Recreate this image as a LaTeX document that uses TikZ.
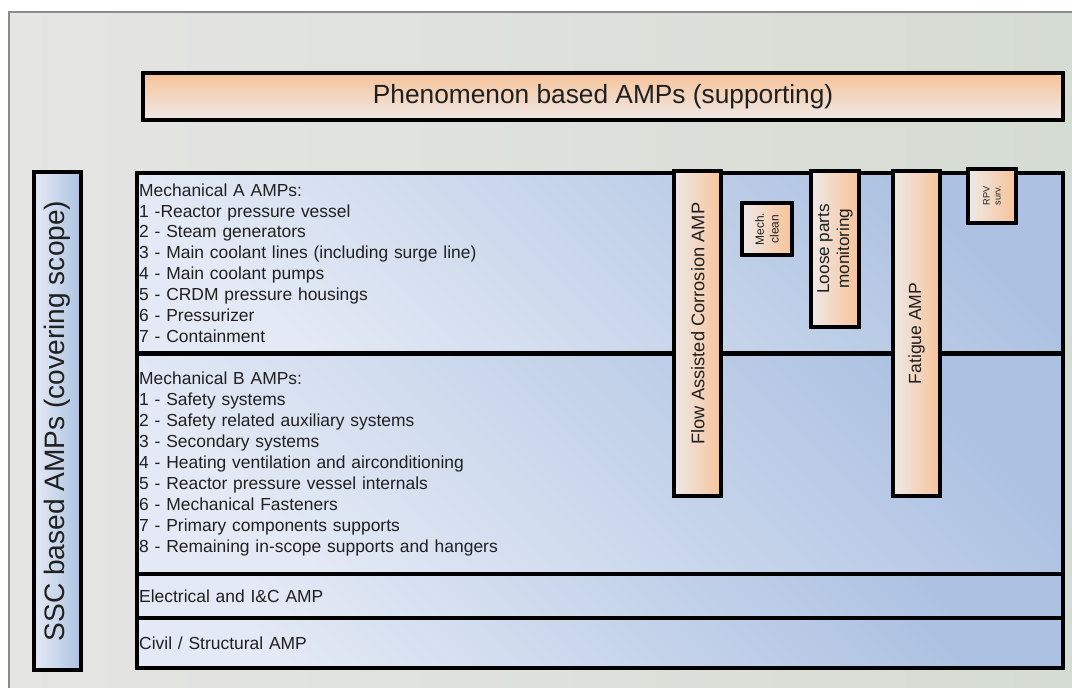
\documentclass[tikz,border=0pt]{standalone}
\usepackage{fontspec}
\setmainfont{Liberation Sans}
\definecolor{bgleft}{RGB}{229,229,227}
\definecolor{bgright}{RGB}{213,220,211}
\definecolor{framecolor}{RGB}{140,140,140}
\definecolor{ampblue}{RGB}{173,194,226}
\definecolor{ampbluelight}{RGB}{228,234,245}
\definecolor{amporange}{RGB}{247,195,152}
\definecolor{amporangelight}{RGB}{238,233,232}
\definecolor{labelcolor}{RGB}{32,32,32}
\tikzset{
ampframe/.style={
  draw=black,
  line width=2.8pt,
  text=labelcolor
},
% y axis points down, so shading angles are mirrored
listblock/.style={
  ampframe,
  anchor=north west,
  top color=ampbluelight,
  bottom color=ampblue,
  shading angle=135,
  minimum width=23.15cm,
  text width=655.5pt,
  inner xsep=1.5pt,
  align=left,
  font=\fontsize{12.4}{14.85}\selectfont
},
sscblock/.style={
  ampframe,
  rotate=90,
  left color=ampbluelight,
  right color=ampblue,
  minimum width=12.45cm,
  minimum height=1.175cm,
  font=\fontsize{20}{24}\selectfont
},
phenoblock/.style={
  ampframe,
  anchor=north west,
  top color=amporangelight,
  bottom color=amporange,
  shading angle=180,
  minimum width=23cm,
  minimum height=1.175cm,
  font=\fontsize{18.7}{22}\selectfont
},
sideblock/.style={
  ampframe,
  rotate=90,
  left color=amporangelight,
  right color=amporange,
  inner sep=1pt,
  align=center
}
}

\begin{document}
\begin{tikzpicture}[x=0.025cm, y=-0.025cm]
  \useasboundingbox (0,0) rectangle (1072,688);
  % backdrop
  \fill[left color=bgleft, right color=bgright] (9,12) rectangle (1072,688);
  \draw[framecolor, line width=0.8pt] (9,688) |- (1072,12);

  % supporting AMPs on top, covering scope on the left
  \node[phenoblock] (pheno) at (141,71) {Phenomenon based AMPs (supporting)};
  \node[sscblock] (ssc) at (57.5,421) {SSC based AMPs (covering scope)};

  % SSC based blocks
  \node[listblock, minimum height=4.5cm] (mecha) at (135,171) {Mechanical A AMPs:\\
    1 -Reactor pressure vessel\\
    2 - Steam generators\\
    3 - Main coolant lines (including surge line)\\
    4 - Main coolant pumps\\
    5 - CRDM pressure housings\\
    6 - Pressurizer\\
    7 - Containment};
  \node[listblock, minimum height=5.5cm] (mechb) at (135,352) {Mechanical B AMPs:\\
    1 - Safety systems\\
    2 - Safety related auxiliary systems\\
    3 - Secondary systems\\
    4 - Heating ventilation and airconditioning\\
    5 - Reactor pressure vessel internals\\
    6 - Mechanical Fasteners\\
    7 - Primary components supports\\
    8 - Remaining in-scope supports and hangers};
  \node[listblock, minimum height=1.1cm] (elec) at (135,572) {Electrical and I\&C AMP};
  \node[listblock, minimum height=1.25cm] (civil) at (135,616) {Civil / Structural AMP};

  % phenomenon based blocks across the mechanical AMPs
  \node[sideblock, minimum width=8.125cm, minimum height=1.165cm,
    font=\fontsize{13}{15}\selectfont] (fac) at (697.75,333.5) {\hspace*{14pt}Flow Assisted Corrosion AMP};
  \node[sideblock, minimum width=1.3cm, minimum height=1.25cm,
    font=\fontsize{8.5}{10.6}\selectfont] (clean) at (767,229) {Mech.\\clean};
  \node[sideblock, minimum width=3.89cm, minimum height=1.19cm,
    font=\fontsize{12.2}{14.2}\selectfont] (loose) at (835,248.75) {Loose parts\\monitoring};
  \node[sideblock, minimum width=8.125cm, minimum height=1.175cm,
    font=\fontsize{12.5}{15}\selectfont] (fatigue) at (916.5,333.5) {Fatigue AMP};
  \node[sideblock, minimum width=1.34cm, minimum height=1.21cm,
    font=\fontsize{6.5}{7.8}\selectfont] (rpv) at (992,196) {RPV\\surv.};
\end{tikzpicture}
\end{document}
